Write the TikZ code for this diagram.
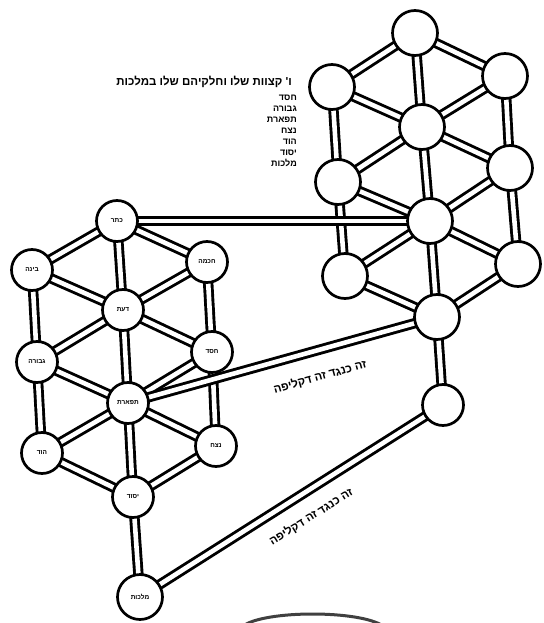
\documentclass[tikz,border=0pt]{standalone}
\usepackage{fontspec}
\newfontfamily\heb[Script=Hebrew]{Liberation Sans}
\TeXXeTstate=1
\pgfdeclarelayer{bg}
\pgfsetlayers{bg,main}
\tikzset{
  sef/.style={circle, draw=black, line width=2.7pt, fill=white, minimum size=41pt, inner sep=0pt,
    font=\heb\bfseries\fontsize{6.5}{6.5}\selectfont},
  bigsef/.style={sef, minimum size=45pt},
  pipe/.style={draw=black, line width=2.9pt, double=white, double distance=4.6pt},
  lbl/.style={inner sep=0pt, font=\heb\bfseries\fontsize{11.5}{11.5}\selectfont},
  lst/.style={inner sep=0pt, align=right, font=\heb\bfseries\fontsize{9}{11}\selectfont},
}
\begin{document}
\begin{tikzpicture}[x=1pt, y=-1pt]
\useasboundingbox (0,0) rectangle (543,623);

% left tree (labelled)
\node[sef] (LT)  at (117,221) {\beginR כתר\endR};
\node[sef] (LUL) at (32,270)  {\beginR בינה\endR};
\node[sef] (LUR) at (207,262) {\beginR חכמה\endR};
\node[sef] (LC)  at (123,310) {\beginR דעת\endR};
\node[sef] (LML) at (37,362)  {\beginR גבורה\endR};
\node[sef] (LMR) at (212,352) {\beginR חסד\endR};
\node[sef] (LCL) at (128,403) {\beginR תפארת\endR};
\node[sef] (LLL) at (42,453)  {\beginR הוד\endR};
\node[sef] (LLR) at (216,446) {\beginR נצח\endR};
\node[sef] (LB)  at (133,497) {\beginR יסוד\endR};
\node[bigsef] (LX) at (140,597) {\beginR מלכות\endR};

% right tree (empty)
\node[bigsef] (RT)  at (415,33)  {};
\node[bigsef] (RUL) at (332,87)  {};
\node[bigsef] (RUR) at (505,76)  {};
\node[bigsef] (RC)  at (422,127) {};
\node[bigsef] (RML) at (338,182) {};
\node[bigsef] (RMR) at (510,168) {};
\node[bigsef] (RCL) at (430,221) {};
\node[bigsef] (RLL) at (345,276) {};
\node[bigsef] (RLR) at (518,264) {};
\node[bigsef] (RB)  at (437,317) {};
\node[sef]    (RX)  at (443,405) {};

\begin{pgfonlayer}{bg}
\fill[white] (0,0) rectangle (543,623);
\foreach \p in {L,R}{
  \foreach \a/\b in {T/UL,T/UR,T/C,UL/C,UR/C,UL/ML,UR/MR,C/ML,C/MR,C/CL,ML/CL,MR/CL,ML/LL,MR/LR,CL/LL,CL/LR,CL/B,LL/B,LR/B,B/X}
    \draw[pipe] (\p\a.center) -- (\p\b.center);
}
\draw[pipe] (LT.center) -- (RCL.center);
\draw[pipe] (LCL.center) -- (RB.center);
\draw[pipe] (LX.center) -- (RX.center);
\end{pgfonlayer}

% texts
\node[lbl, anchor=east] (hdr) at (292,82) {\beginR ו' קצוות שלו וחלקיהם שלו במלכות\endR};
\node[lst, anchor=north east] (list) at (297,95) {\beginR חסד\endR\\ \beginR גבורה\endR\\ \beginR תפארת\endR\\ \beginR נצח\endR\\ \beginR הוד\endR\\ \beginR יסוד\endR\\ \beginR מלכות\endR};
\node[lbl, rotate=15.5] (lab1) at (320,377) {\beginR זה כנגד זה דקליפה\endR};
\node[lbl, rotate=32] (lab2) at (311,517) {\beginR זה כנגד זה דקליפה\endR};

% partial circle at the bottom edge
\begin{scope}
\clip (0,0) rectangle (543,623);
\draw[line width=3pt, black!75] (243,626) .. controls (265,610) and (360,610) .. (383,626);
\end{scope}
\end{tikzpicture}
\end{document}
